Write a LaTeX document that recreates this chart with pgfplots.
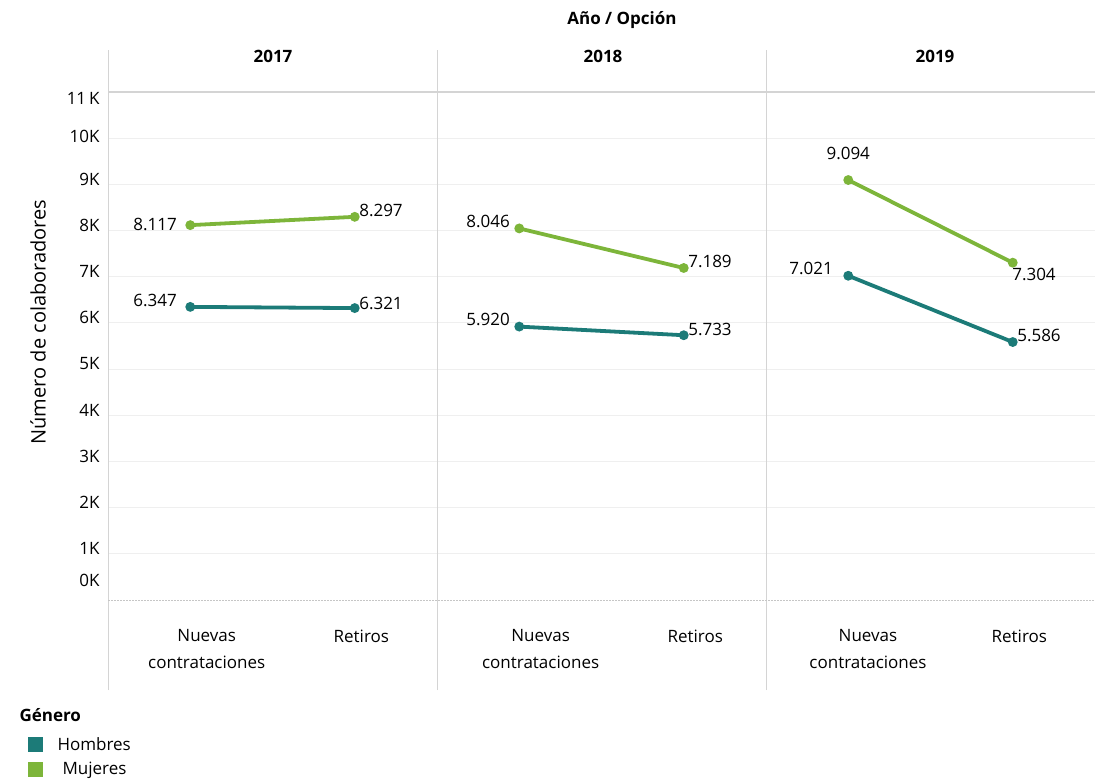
\documentclass[border=0pt]{standalone}
\usepackage{pgfplots}
\pgfplotsset{compat=1.18}
\usepackage{fontspec}
\setmainfont{Open Sans}
\definecolor{hombres}{HTML}{1C7B78}
\definecolor{mujeres}{HTML}{7DB53A}
\definecolor{sep}{HTML}{D4D4D4}
\definecolor{gridc}{HTML}{EFEFEF}
\newcommand{\lbl}{\fontsize{17}{27}\selectfont}
\begin{document}
\begin{tikzpicture}[x=1pt,y=1pt]
\path[use as bounding box] (0,0) rectangle (1095,782);
\begin{axis}[
  at={(108pt,182pt)}, anchor=south west,
  scale only axis, width=987pt, height=508pt,
  xmin=0, xmax=6, ymin=0, ymax=11000,
  axis line style={draw=none},
  major tick length=0pt,
  clip=false,
  scaled y ticks=false,
  ytick={433,1110,2110,3110,4110,5110,6110,7110,8110,9110,10040,10870},
  yticklabels={0K,1K,2K,3K,4K,5K,6K,7K,8K,9K,10K,11\,K},
  yticklabel style={font=\lbl, anchor=east, xshift=-5pt},
  extra y ticks={1000,2000,...,10000},
  extra y tick labels={},
  extra y tick style={grid=major, grid style={gridc, line width=1pt}},
  xtick={0.6,1.54,2.63,3.57,4.62,5.54},
  xticklabels={{Nuevas\\contrataciones},Retiros,{Nuevas\\contrataciones},Retiros,{Nuevas\\contrataciones},Retiros},
  xticklabel style={font=\lbl, align=center, anchor=north, yshift=-26pt},
  unbounded coords=jump,
]
% separators and reference lines
\draw[sep, line width=1pt] ([yshift=-90pt]axis cs:0,0) -- ([yshift=42pt]axis cs:0,11000);
\draw[sep, line width=1pt] ([yshift=-90pt]axis cs:2,0) -- ([yshift=42pt]axis cs:2,11000);
\draw[sep, line width=1pt] ([yshift=-90pt]axis cs:4,0) -- ([yshift=42pt]axis cs:4,11000);
\draw[sep, line width=1.2pt] (axis cs:0,11000) -- (axis cs:6,11000);
\draw[gray!45, line width=1pt, dash pattern=on 2pt off 1pt] (axis cs:0,0) -- (axis cs:6,0);

\addplot[mujeres, line width=3.8pt, mark=*, mark size=2.9pt, mark options={solid}]
  coordinates {(0.5,8117) (1.5,8297) (2,nan) (2.5,8046) (3.5,7189) (4,nan) (4.5,9094) (5.5,7304)};
\addplot[hombres, line width=3.8pt, mark=*, mark size=2.9pt, mark options={solid}]
  coordinates {(0.5,6347) (1.5,6321) (2,nan) (2.5,5920) (3.5,5733) (4,nan) (4.5,7021) (5.5,5586)};

% value labels
\node[font=\lbl, anchor=east, xshift=-10pt, yshift=1pt] at (axis cs:0.5,8117) {8.117};
\node[font=\lbl, anchor=west, xshift=1pt, yshift=6pt] at (axis cs:1.5,8297) {8.297};
\node[font=\lbl, anchor=east, xshift=-10pt, yshift=6pt] at (axis cs:0.5,6347) {6.347};
\node[font=\lbl, anchor=west, xshift=1pt, yshift=5pt] at (axis cs:1.5,6321) {6.321};
\node[font=\lbl, anchor=east, xshift=-6pt, yshift=7pt] at (axis cs:2.5,8046) {8.046};
\node[font=\lbl, anchor=west, xshift=1pt, yshift=7pt] at (axis cs:3.5,7189) {7.189};
\node[font=\lbl, anchor=east, xshift=-6pt, yshift=7pt] at (axis cs:2.5,5920) {5.920};
\node[font=\lbl, anchor=west, xshift=1pt, yshift=6pt] at (axis cs:3.5,5733) {5.733};
\node[font=\lbl, anchor=south, xshift=0pt, yshift=17pt] at (axis cs:4.5,9094) {9.094};
\node[font=\lbl, anchor=north west, xshift=-4pt, yshift=-2pt] at (axis cs:5.5,7304) {7.304};
\node[font=\lbl, anchor=east, xshift=-12pt, yshift=7pt] at (axis cs:4.5,7021) {7.021};
\node[font=\lbl, anchor=west, xshift=1pt, yshift=7pt] at (axis cs:5.5,5586) {5.586};
\end{axis}

% headers
\node[font=\lbl\bfseries] at (622,762) {Año / Opción};
\node[font=\lbl\bfseries] at (273,726) {2017};
\node[font=\lbl\bfseries] at (603,726) {2018};
\node[font=\lbl\bfseries] at (935,726) {2019};

% y axis title
\node[font=\fontsize{20}{24}\selectfont, rotate=90] at (38,460) {Número de colaboradores};

% legend
\node[font=\lbl\bfseries, anchor=west] at (16,67) {Género};
\fill[hombres] (28,30) rectangle (43,45);
\node[font=\lbl, anchor=west] at (54,38) {Hombres};
\fill[mujeres] (28,5) rectangle (43,20);
\node[font=\lbl, anchor=west] at (59,12) {Mujeres};
\end{tikzpicture}
\end{document}
